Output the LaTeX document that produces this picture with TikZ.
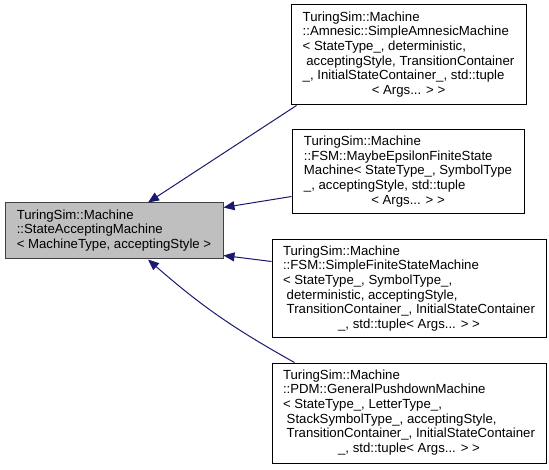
\documentclass[tikz,border=0pt]{standalone}
\usepackage{fontspec}
\setmainfont{Liberation Sans}
\usetikzlibrary{arrows.meta}
\definecolor{midnightblue}{RGB}{25,25,112}
\definecolor{basegray}{RGB}{191,191,191}
\definecolor{baseline}{RGB}{64,64,64}

\begin{document}
\begin{tikzpicture}[x = 1pt, y = 1pt,
                > = {Triangle[length=11pt, width=9pt]}, % arrow head style
                line width = 1pt % line style
            ]

            \tikzstyle{every node}=[draw = black, fill = white, rectangle,
            inner sep = 0pt, font = \fontsize{13.2}{14.7}\selectfont]
            \tikzstyle{base}=[fill = basegray, draw = baseline]
            \tikzstyle{inherit}=[draw = midnightblue, ->]

            \useasboundingbox (0,0) rectangle (549,469);

            \node[base, minimum width = 218pt, minimum height = 56pt] (sam) at (114,238)
            {\begin{tabular}{@{}l@{}}TuringSim::Machine\\::StateAcceptingMachine\\
            \multicolumn{1}{@{}c@{}}{< MachineType, acceptingStyle >}\end{tabular}};

            \node[minimum width = 235pt, minimum height = 100pt] (amn) at (408.5,414)
            {\begin{tabular}{@{}l@{}}TuringSim::Machine\\::Amnesic::SimpleAmnesicMachine\\
            < StateType\_, deterministic,\\\ acceptingStyle, TransitionContainer\\
            \_, InitialStateContainer\_, std::tuple\\
            \multicolumn{1}{@{}c@{}}{< Args... > >}\end{tabular}};

            \node[minimum width = 232pt, minimum height = 84pt] (eps) at (408,297)
            {\begin{tabular}{@{}l@{}}TuringSim::Machine\\::FSM::MaybeEpsilonFiniteState\\
            Machine< StateType\_, SymbolType\\\_, acceptingStyle, std::tuple\\
            \multicolumn{1}{@{}c@{}}{< Args... > >}\end{tabular}};

            \node[minimum width = 274pt, minimum height = 98pt] (fsm) at (409,180)
            {\begin{tabular}{@{}l@{}}TuringSim::Machine\\::FSM::SimpleFiniteStateMachine\\
            < StateType\_, SymbolType\_,\\\ deterministic, acceptingStyle,\\
            \ TransitionContainer\_, InitialStateContainer\\
            \multicolumn{1}{@{}c@{}}{\_, std::tuple< Args... > >}\end{tabular}};

            \node[minimum width = 274pt, minimum height = 100pt] (pdm) at (409,56)
            {\begin{tabular}{@{}l@{}}TuringSim::Machine\\::PDM::GeneralPushdownMachine\\
            < StateType\_, LetterType\_,\\\ StackSymbolType\_, acceptingStyle,\\
            \ TransitionContainer\_, InitialStateContainer\\
            \multicolumn{1}{@{}c@{}}{\_, std::tuple< Args... > >}\end{tabular}};

            \draw[inherit] ([xshift=6pt]amn.south west) -- ([xshift=34pt]sam.north);
            \draw[inherit] ([yshift=18pt]eps.south west) -- ([yshift=-5pt]sam.north east);
            \draw[inherit] ([yshift=-22pt]fsm.north west) -- ([yshift=4pt]sam.south east);
            \draw[inherit] ([xshift=23pt]pdm.north west) to[bend left=6] ([xshift=34pt]sam.south);
\end{tikzpicture}
\end{document}
